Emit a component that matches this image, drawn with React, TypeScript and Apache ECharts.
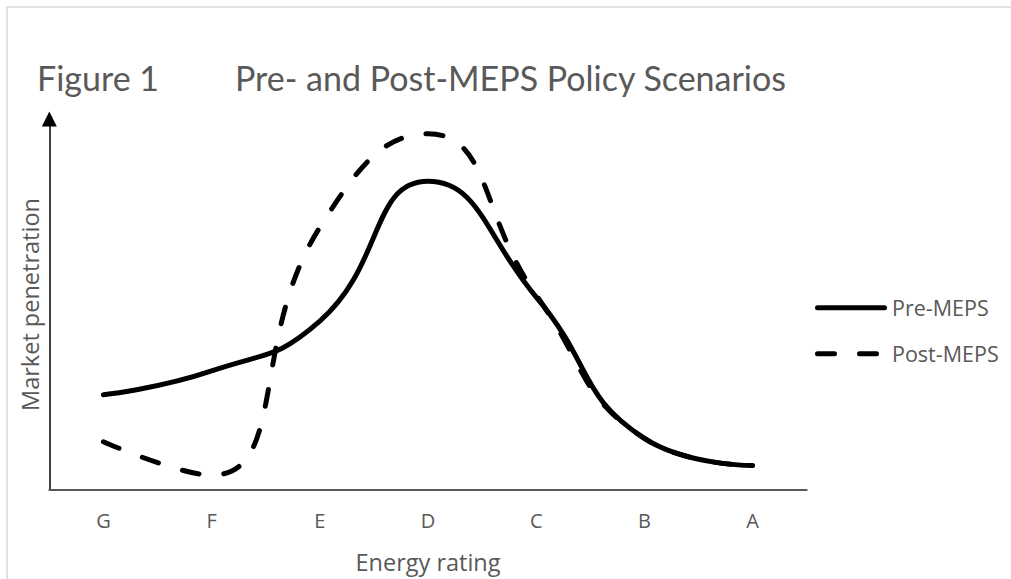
import React, { useEffect, useRef } from "react";
import * as echarts from "echarts";

const categories = ["G", "F", "E", "D", "C", "B", "A"];
const preMeps = [25.7, 32.1, 45.5, 83.2, 52.0, 13.9, 6.6];
const postMeps = [13.0, 4.0, 70.8, 96.0, 52.5, 13.9, 6.6];
const seriesNames = ["Pre-MEPS", "Post-MEPS"];
const titleLeft = "Figure 1";
const titleRight = "Pre- and Post-MEPS Policy Scenarios";
const xName = "Energy rating";
const yName = "Market penetration";

const TITLE_FONT = "Lato, 'Open Sans', sans-serif";
const FONT = "'Open Sans', Lato, sans-serif";
const GRAY = "#595959";

const SOLID_ICON =
  "path://M2.5,0H69.5A2.5,2.5,0,0,1,69.5,5H2.5A2.5,2.5,0,0,1,2.5,0Z";
const DASH_ICON =
  "path://M2.5,0H19.5A2.5,2.5,0,0,1,19.5,5H2.5A2.5,2.5,0,0,1,2.5,0ZM44.5,0H61.5A2.5,2.5,0,0,1,61.5,5H44.5A2.5,2.5,0,0,1,44.5,0ZM72,0L72,5";

export default function App() {
  const ref = useRef<HTMLDivElement>(null);
  useEffect(() => {
    if (!ref.current) return;
    const chart = echarts.init(ref.current, null, { renderer: "svg" });
    chart.setOption({
      animation: false,
      backgroundColor: "#ffffff",
      textStyle: { fontFamily: FONT },
      title: [
        {
          text: titleLeft,
          left: 37,
          top: 60,
          padding: 0,
          textStyle: { fontFamily: TITLE_FONT, fontSize: 34, fontWeight: "normal", color: GRAY },
        },
        {
          text: titleRight,
          left: 235,
          top: 60,
          padding: 0,
          textStyle: { fontFamily: TITLE_FONT, fontSize: 34, fontWeight: "normal", color: GRAY },
        },
      ],
      graphic: [
        {
          type: "rect",
          shape: { x: 7, y: 7, width: 1100, height: 700 },
          style: { fill: "none", stroke: "#d9d9d9", lineWidth: 1.5 },
          silent: true,
          z: -1,
        },
      ],
      legend: {
        orient: "vertical",
        left: 815,
        top: 296.7,
        padding: 0,
        itemWidth: 72,
        itemHeight: 5,
        itemGap: 24,
        itemStyle: { color: "#000000", borderWidth: 0 },
        data: [
          { name: seriesNames[0], icon: SOLID_ICON },
          { name: seriesNames[1], icon: DASH_ICON },
        ],
        textStyle: { fontFamily: FONT, fontSize: 21.5, color: GRAY },
      },
      grid: { left: 49.3, right: 204.3, top: 119, bottom: 87.3, containLabel: false },
      xAxis: {
        type: "category",
        data: categories,
        boundaryGap: true,
        axisTick: { show: false },
        axisLine: { show: true, lineStyle: { color: GRAY, width: 2 } },
        axisLabel: { color: GRAY, fontSize: 20, margin: 20, fontFamily: FONT },
        splitLine: { show: false },
        name: xName,
        nameLocation: "middle",
        nameGap: 60,
        nameTextStyle: { color: GRAY, fontSize: 23.5, fontFamily: FONT },
      },
      yAxis: {
        type: "value",
        min: 0,
        max: 100,
        axisLabel: { show: false },
        axisTick: { show: false },
        splitLine: { show: false },
        axisLine: {
          show: true,
          symbol: ["none", "triangle"],
          symbolSize: [15, 15],
          lineStyle: { color: "#000000", width: 1.5 },
        },
        name: yName,
        nameLocation: "middle",
        nameRotate: 90,
        nameGap: 7,
        nameTextStyle: { color: GRAY, fontSize: 23.5, fontFamily: FONT },
      },
      series: [
        {
          name: seriesNames[0],
          type: "line",
          data: preMeps,
          smooth: 0.5,
          symbol: "none",
          z: 3,
          lineStyle: { color: "#000000", width: 5, cap: "round", join: "round" },
          itemStyle: { color: "#000000" },
        },
        {
          name: seriesNames[1],
          type: "line",
          data: postMeps,
          smooth: 0.5,
          symbol: "none",
          z: 2,
          lineStyle: { color: "#000000", width: 5, type: [17, 25], cap: "round", join: "round" },
          itemStyle: { color: "#000000" },
        },
      ],
    });
    return () => chart.dispose();
  }, []);
  return (
    <div
      ref={ref}
      style={{ position: "fixed", left: 0, top: 0, width: 1011, height: 579, background: "#fff" }}
    />
  );
}
